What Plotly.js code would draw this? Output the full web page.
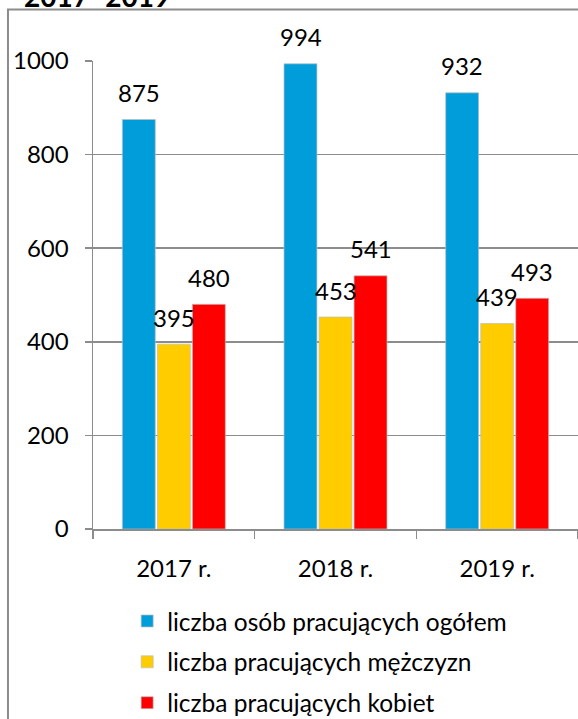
<!DOCTYPE html>
<html>
<head>
<meta charset="utf-8">
<script src="https://cdn.plot.ly/plotly-3.0.1.min.js"></script>
<style>
  html, body { margin: 0; padding: 0; background: #ffffff; overflow: hidden; }
  #chart { width: 578px; height: 719px; }
</style>
</head>
<body>
<div id="chart"></div>
<script>
const years = ["2017 r.", "2018 r.", "2019 r."];
const seriesNames = [
  "liczba osób pracujących ogółem",
  "liczba pracujących mężczyzn",
  "liczba pracujących kobiet"
];
const totalWorkers = [875, 994, 932];
const menWorkers = [395, 453, 439];
const womenWorkers = [480, 541, 493];
const seriesColors = ["#009ddb", "#ffcc00", "#ff0000"];
const titleText = "2017–2019";

const allSeries = [totalWorkers, menWorkers, womenWorkers];
const font = "Lato, 'Open Sans', sans-serif";

const traces = allSeries.map((vals, i) => ({
  type: "bar",
  x: years,
  y: vals,
  name: seriesNames[i],
  legendgroup: "g" + i,
  marker: { color: seriesColors[i], line: { color: "rgba(190,190,190,0.7)", width: 1 } },
  hoverinfo: "y"
}));

// value labels sit above each bar, centred on it
const annotations = [];
allSeries.forEach((vals, i) => {
  vals.forEach((v, j) => {
    annotations.push({
      x: years[j],
      y: v,
      xref: "x",
      yref: "y",
      text: String(v),
      showarrow: false,
      xshift: (i - 1) * 35,
      yshift: 27,
      yanchor: "middle",
      font: { family: font, size: 24, color: "#000000" }
    });
  });
});

annotations.push({
  xref: "paper",
  yref: "paper",
  x: -0.146,
  y: 1.0983,
  xanchor: "left",
  yanchor: "bottom",
  text: "<b>" + titleText + "</b>",
  showarrow: false,
  font: { family: font, size: 28, color: "#000000" }
});

const layout = {
  width: 578,
  height: 719,
  paper_bgcolor: "#ffffff",
  plot_bgcolor: "#ffffff",
  margin: { l: 93, r: 0, t: 61, b: 190, autoexpand: false },
  font: { family: font, size: 24, color: "#000000" },
  barmode: "group",
  bargap: 0.35,
  bargroupgap: 0.06,
  showlegend: true,
  legend: {
    orientation: "v",
    xref: "container",
    yref: "container",
    x: 0.22,
    y: 0.1675,
    xanchor: "left",
    yanchor: "top",
    tracegroupgap: 6,
    font: { family: font, size: 24.5, color: "#000000" },
    bgcolor: "rgba(0,0,0,0)"
  },
  xaxis: {
    type: "category",
    tickson: "boundaries",
    ticks: "outside",
    ticklen: 8,
    tickcolor: "#8c8c8c",
    tickwidth: 1.5,
    tickangle: 0,
    showline: true,
    linecolor: "#8c8c8c",
    linewidth: 1.5,
    showgrid: false,
    zeroline: false,
    ticklabelstandoff: 18,
    tickfont: { family: font, size: 24, color: "#000000" }
  },
  yaxis: {
    range: [0, 1000],
    dtick: 200,
    ticks: "outside",
    ticklen: 7,
    tickcolor: "#8c8c8c",
    tickwidth: 1.5,
    showline: true,
    linecolor: "#8c8c8c",
    linewidth: 1.5,
    showgrid: true,
    gridcolor: "#8c8c8c",
    gridwidth: 1.5,
    zeroline: false,
    ticklabelstandoff: 11,
    tickfont: { family: font, size: 24, color: "#000000" }
  },
  shapes: [
    {
      type: "rect",
      xref: "paper",
      yref: "paper",
      x0: -0.1753,
      x1: 1.2,
      y0: -0.6,
      y1: 1.11,
      line: { color: "#8c8c8c", width: 2 },
      fillcolor: "rgba(0,0,0,0)",
      layer: "above"
    }
  ],
  annotations
};

Plotly.newPlot("chart", traces, layout, { displayModeBar: false, staticPlot: true });
</script>
</body>
</html>
